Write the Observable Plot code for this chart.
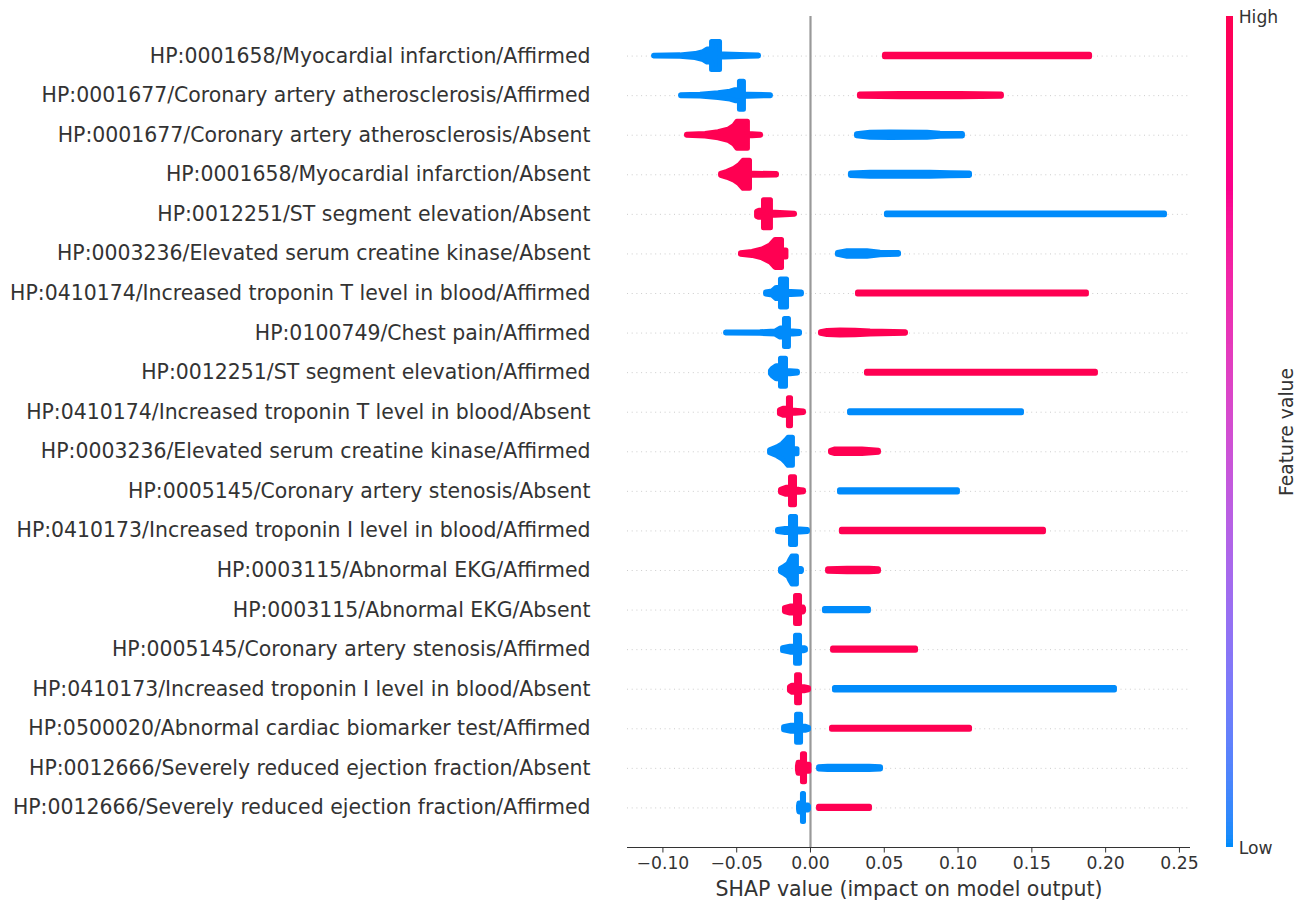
<!DOCTYPE html>
<html>
<head>
<meta charset="utf-8">
<script src="https://cdn.jsdelivr.net/npm/d3@7"></script>
<script src="https://cdn.jsdelivr.net/npm/@observablehq/plot@0.6"></script>
<style>
  html, body { margin: 0; padding: 0; background: #fff; }
  #wrap { position: relative; width: 1305px; height: 903px; overflow: hidden; background: #fff; }
  #wrap svg { position: absolute; top: 0; font-family: "DejaVu Sans", sans-serif; }
</style>
</head>
<body>
<div id="wrap"></div>
<script>
// Features, top to bottom
const features = [
  "HP:0001658/Myocardial infarction/Affirmed",
  "HP:0001677/Coronary artery atherosclerosis/Affirmed",
  "HP:0001677/Coronary artery atherosclerosis/Absent",
  "HP:0001658/Myocardial infarction/Absent",
  "HP:0012251/ST segment elevation/Absent",
  "HP:0003236/Elevated serum creatine kinase/Absent",
  "HP:0410174/Increased troponin T level in blood/Affirmed",
  "HP:0100749/Chest pain/Affirmed",
  "HP:0012251/ST segment elevation/Affirmed",
  "HP:0410174/Increased troponin T level in blood/Absent",
  "HP:0003236/Elevated serum creatine kinase/Affirmed",
  "HP:0005145/Coronary artery stenosis/Absent",
  "HP:0410173/Increased troponin I level in blood/Affirmed",
  "HP:0003115/Abnormal EKG/Affirmed",
  "HP:0003115/Abnormal EKG/Absent",
  "HP:0005145/Coronary artery stenosis/Affirmed",
  "HP:0410173/Increased troponin I level in blood/Absent",
  "HP:0500020/Abnormal cardiac biomarker test/Affirmed",
  "HP:0012666/Severely reduced ejection fraction/Absent",
  "HP:0012666/Severely reduced ejection fraction/Affirmed"
];

// Feature value of the negative-SHAP cluster in each row (the positive cluster has the other value)
const negFeatureValue = ["Low","Low","High","High","High","High","Low","Low","Low","High",
                         "Low","High","Low","Low","High","Low","High","Low","High","Low"];

// Density profiles of the negative clusters: [SHAP value, half-thickness in row units]
const negProfiles = [
  [[-0.1077,0.068],[-0.0881,0.081],[-0.0779,0.114],[-0.0725,0.164],[-0.0698,0.227],[-0.0684,0.417],[-0.0596,0.417],[-0.0583,0.101],[-0.0474,0.088],[-0.0332,0.076]],
  [[-0.0894,0.076],[-0.0745,0.088],[-0.0623,0.126],[-0.0542,0.164],[-0.0508,0.202],[-0.0495,0.417],[-0.0434,0.417],[-0.0420,0.088],[-0.0251,0.076]],
  [[-0.0854,0.076],[-0.0711,0.096],[-0.0623,0.139],[-0.0556,0.202],[-0.0515,0.303],[-0.0495,0.404],[-0.0407,0.404],[-0.0393,0.088],[-0.0318,0.076]],
  [[-0.0623,0.088],[-0.0562,0.139],[-0.0515,0.215],[-0.0481,0.303],[-0.0454,0.417],[-0.0393,0.417],[-0.0379,0.088],[-0.0210,0.083]],
  [[-0.0379,0.126],[-0.0346,0.152],[-0.0332,0.417],[-0.0251,0.417],[-0.0237,0.101],[-0.0088,0.076]],
  [[-0.0488,0.083],[-0.0393,0.114],[-0.0325,0.177],[-0.0271,0.278],[-0.0237,0.417],[-0.0176,0.417],[-0.0163,0.152],[-0.0156,0.076]],
  [[-0.0318,0.088],[-0.0257,0.114],[-0.0230,0.202],[-0.0217,0.417],[-0.0142,0.417],[-0.0129,0.101],[-0.0041,0.088]],
  [[-0.0589,0.076],[-0.0339,0.083],[-0.0237,0.101],[-0.0203,0.177],[-0.0190,0.417],[-0.0129,0.417],[-0.0115,0.101],[-0.0054,0.088]],
  [[-0.0285,0.101],[-0.0257,0.152],[-0.0230,0.227],[-0.0217,0.417],[-0.0149,0.417],[-0.0136,0.101],[-0.0068,0.083]],
  [[-0.0224,0.114],[-0.0183,0.152],[-0.0163,0.417],[-0.0115,0.417],[-0.0102,0.101],[-0.0027,0.083]],
  [[-0.0291,0.101],[-0.0257,0.126],[-0.0224,0.177],[-0.0190,0.253],[-0.0163,0.354],[-0.0149,0.417],[-0.0102,0.417],[-0.0088,0.126],[-0.0075,0.088]],
  [[-0.0217,0.101],[-0.0163,0.152],[-0.0149,0.417],[-0.0088,0.417],[-0.0075,0.101],[-0.0027,0.088]],
  [[-0.0237,0.088],[-0.0169,0.114],[-0.0149,0.417],[-0.0081,0.417],[-0.0068,0.101],[0.0000,0.088]],
  [[-0.0217,0.101],[-0.0183,0.139],[-0.0149,0.227],[-0.0136,0.329],[-0.0122,0.417],[-0.0075,0.417],[-0.0061,0.101],[-0.0041,0.088]],
  [[-0.0190,0.114],[-0.0136,0.152],[-0.0115,0.417],[-0.0054,0.417],[-0.0047,0.126],[-0.0027,0.101]],
  [[-0.0203,0.101],[-0.0136,0.139],[-0.0115,0.417],[-0.0054,0.417],[-0.0041,0.101],[-0.0014,0.088]],
  [[-0.0156,0.114],[-0.0122,0.152],[-0.0108,0.417],[-0.0054,0.417],[-0.0041,0.114],[0.0007,0.088]],
  [[-0.0196,0.101],[-0.0129,0.139],[-0.0108,0.417],[-0.0047,0.417],[-0.0034,0.114],[0.0007,0.088]],
  [[-0.0102,0.114],[-0.0081,0.202],[-0.0068,0.417],[-0.0020,0.417],[-0.0007,0.152],[0.0007,0.101]],
  [[-0.0095,0.101],[-0.0075,0.177],[-0.0068,0.417],[-0.0027,0.417],[-0.0014,0.126],[0.0007,0.101]]
];

// Density profiles of the positive clusters
const posProfiles = [
  [[0.0488,0.094],[0.1911,0.094]],
  [[0.0318,0.094],[0.0610,0.106],[0.1016,0.106],[0.1314,0.094]],
  [[0.0298,0.088],[0.0407,0.126],[0.0542,0.134],[0.0793,0.126],[0.0881,0.101],[0.1050,0.094]],
  [[0.0257,0.094],[0.0407,0.114],[0.0813,0.114],[0.0949,0.101],[0.1098,0.094]],
  [[0.0501,0.086],[0.2419,0.086]],
  [[0.0169,0.088],[0.0251,0.134],[0.0386,0.134],[0.0474,0.096],[0.0617,0.086]],
  [[0.0305,0.088],[0.1890,0.088]],
  [[0.0054,0.083],[0.0115,0.114],[0.0203,0.126],[0.0305,0.119],[0.0407,0.101],[0.0664,0.083]],
  [[0.0366,0.088],[0.1951,0.088]],
  [[0.0251,0.090],[0.1450,0.090]],
  [[0.0122,0.088],[0.0169,0.121],[0.0352,0.121],[0.0420,0.101],[0.0481,0.088]],
  [[0.0183,0.094],[0.1016,0.094]],
  [[0.0196,0.094],[0.1599,0.094]],
  [[0.0102,0.096],[0.0250,0.105],[0.0400,0.105],[0.0481,0.096]],
  [[0.0081,0.090],[0.0413,0.090]],
  [[0.0136,0.090],[0.0732,0.090]],
  [[0.0149,0.094],[0.2080,0.094]],
  [[0.0129,0.090],[0.1098,0.090]],
  [[0.0041,0.090],[0.0120,0.105],[0.0400,0.105],[0.0495,0.090]],
  [[0.0041,0.090],[0.0420,0.090]]
];

const xTicks = [-0.10, -0.05, 0.00, 0.05, 0.10, 0.15, 0.20, 0.25];
const xDomain = [-0.124, 0.2575];
const xLabel = "SHAP value (impact on model output)";
const colorLabels = ["Low", "High"];
const colorRange = ["#008bfb", "#ff0052"];
const colorBarLabel = "Feature value";

// ---- layout ----
const W = 1305, H = 903;
const mTop = 16, mBottom = 56, mLeft = 627, mRight = W - 1190;
const pxPerX = (W - mLeft - mRight) / (xDomain[1] - xDomain[0]);
const pxPerRow = (H - mTop - mBottom) / 21;
const R = 2.5; // dot radius used to round the cluster outlines
const rX = R / pxPerX, rY = R / pxPerRow;

// shrink a visible profile by the dot radius, so that a round stroke restores its outline
function coreProfile(p) {
  const n = p.length, out = [];
  const c = hh => Math.max(hh - rY, 0.15 * rY);
  for (let i = 0; i < n; i++) {
    const [x, h] = p[i];
    if (i === 0) { out.push([x + rX, c(h)]); continue; }
    if (i === n - 1) { out.push([x - rX, c(h)]); continue; }
    const [xp, hp] = p[i - 1], [xn, hn] = p[i + 1];
    if (h - hp > 0.15 && x - xp < 3 * rX) {
      const sx = Math.min(x + rX, (x + xn) / 2);
      out.push([sx, c(hp)], [sx, c(h)]);
    } else if (h - hn > 0.15 && xn - x < 3 * rX) {
      const sx = Math.max(x - rX, (x + xp) / 2);
      out.push([sx, c(h)], [sx, c(hn)]);
    } else out.push([x, c(h)]);
  }
  for (let i = 1; i < out.length; i++) if (out[i][0] < out[i - 1][0]) out[i][0] = out[i - 1][0];
  return out;
}

const pts = [];
features.forEach((f, i) => {
  const negV = negFeatureValue[i];
  const posV = negV === "Low" ? "High" : "Low";
  [[negProfiles[i], negV, "n"], [posProfiles[i], posV, "p"]].forEach(([prof, v, s]) => {
    coreProfile(prof).forEach(([x, h]) => pts.push({id: i + s, row: i, x, h, value: v}));
  });
});

const main = Plot.plot({
  width: W, height: H,
  marginTop: mTop, marginBottom: mBottom, marginLeft: mLeft, marginRight: mRight,
  style: {fontFamily: "DejaVu Sans, sans-serif", background: "transparent", overflow: "visible"},
  x: {domain: xDomain},
  y: {domain: [20, -1]},
  color: {type: "ordinal", domain: colorLabels, range: colorRange},
  marks: [
    Plot.ruleY(d3.range(features.length), {y: d => d, stroke: "#cccccc", strokeWidth: 1, strokeDasharray: "1,3.7"}),
    Plot.ruleX([0], {stroke: "#999999", strokeWidth: 2.2}),
    Plot.areaY(pts, {x: "x", y1: d => d.row - d.h, y2: d => d.row + d.h, z: "id",
      fill: "value", stroke: "value", strokeWidth: 2 * R, strokeLinejoin: "round"}),
    Plot.ruleY([20], {stroke: "#333333", strokeWidth: 1.1}),
    Plot.axisX(xTicks, {anchor: "bottom", tickSize: 5.5, tickPadding: 3.5, stroke: "#333333", fill: "#333333",
      tickFormat: d3.format(".2f"), fontSize: "17.2px", label: null}),
    Plot.axisY(d3.range(features.length), {anchor: "left", tickSize: 0, tickPadding: 37, fill: "#333333",
      tickFormat: i => features[i], fontSize: "20.45px", label: null}),
    Plot.text([xLabel], {frameAnchor: "bottom", dy: 42, lineAnchor: "middle", fontSize: "20.5px", fill: "#333333"})
  ]
});
main.style.left = "0px";
document.getElementById("wrap").appendChild(main);

// ---- colour bar ----
const steps = d3.range(200);
const interp = d3.interpolateHcl(colorRange[0], colorRange[1]);
const cbW = 125;
const cb = Plot.plot({
  width: cbW, height: H,
  marginTop: mTop, marginBottom: mBottom, marginLeft: 46, marginRight: cbW - 52.7,
  style: {fontFamily: "DejaVu Sans, sans-serif", background: "transparent", overflow: "visible"},
  x: {domain: [0, 1], axis: null},
  y: {domain: [0, 1], axis: null},
  color: {type: "identity"},
  marks: [
    Plot.rect(steps, {x1: 0, x2: 1, y1: d => d / 200, y2: d => Math.min(1, (d + 1.6) / 200),
      fill: d => interp(d / 199), shapeRendering: "crispEdges"}),
    Plot.text([colorLabels[1]], {frameAnchor: "top-right", textAnchor: "start", lineAnchor: "middle", dx: 5.5, dy: 1, fontSize: "17.2px", fill: "#333333"}),
    Plot.text([colorLabels[0]], {frameAnchor: "bottom-right", textAnchor: "start", lineAnchor: "middle", dx: 5.5, dy: 1, fontSize: "17.2px", fill: "#333333"}),
    Plot.text([colorBarLabel], {frameAnchor: "right", textAnchor: "middle", dx: 54, rotate: -90, lineAnchor: "middle", fontSize: "18.75px", fill: "#333333"})
  ]
});
cb.style.left = "1180px";
document.getElementById("wrap").appendChild(cb);
</script>
</body>
</html>
